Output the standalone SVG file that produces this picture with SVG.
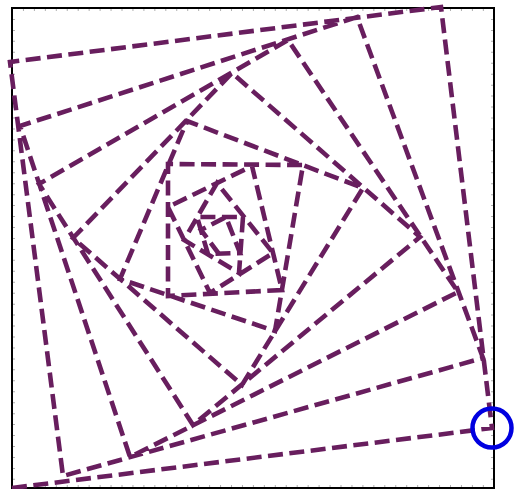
<svg xmlns="http://www.w3.org/2000/svg" width="515" height="489" viewBox="0 0 515 489">
<style>
.frame{fill:none;stroke:#000;stroke-width:2}
.tick{stroke:#b0b0b0;stroke-width:3;stroke-dasharray:1 9.95;fill:none}
.spiral{fill:none;stroke:#681e5e;stroke-width:4.6;stroke-dasharray:15 6.5;stroke-linejoin:miter}
.marker{fill:none;stroke:#0000e0;stroke-width:4.5}
</style>
<rect width="515" height="489" fill="#fff"/>
<g id="ticks">
<line class="tick" x1="12" y1="9.5" x2="494" y2="9.5"/>
<line class="tick" x1="12" y1="486.5" x2="494" y2="486.5"/>
<line class="tick" x1="13.5" y1="8" x2="13.5" y2="488"/>
<line class="tick" x1="492.5" y1="8" x2="492.5" y2="488"/>
</g>
<rect id="frame" class="frame" x="12" y="8" width="482" height="480"/>
<g id="spiral">
<path class="spiral" d="M12,488 L492,428 L441,7 L10,62 L63,476 L483,358 L357,17 L20,126 L130,457 L458,292 L288,40 L39,184 L193,425 L420,237 L232,73 L73,238 L242,385 L363,188 L187,121 L120,279 L275,331 L303,165 L168,164 L168,296 L282,290 L252,166 L168,207 L210,293 L273,253 L217,183 L184,240 L239,273 L243,217 L197,217 L208,254 L240,253 L226,217 L201,230 L219,254"/>
</g>
<circle id="start" class="marker" cx="492" cy="428" r="19.5"/>
</svg>
